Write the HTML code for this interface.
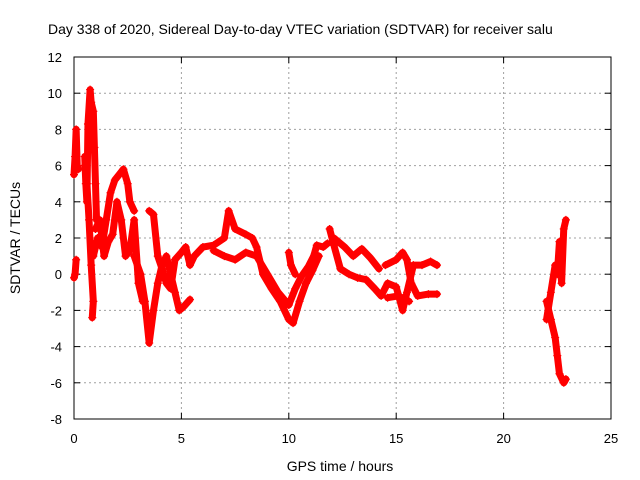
<!DOCTYPE html>
<html><head><meta charset="utf-8"><style>
body{margin:0;background:#fff;}
svg{display:block;font-family:"Liberation Sans",sans-serif;}
</style></head><body>
<svg id="chart" width="640" height="480">
<rect width="640" height="480" fill="#fff"/>
<text x="48" y="34" font-size="14" fill="#000">Day 338 of 2020, Sidereal Day-to-day VTEC variation (SDTVAR) for receiver salu</text>
<g id="grid"></g>
<g id="axes"></g>
<g id="marks"></g>
<text x="340" y="471" font-size="14" text-anchor="middle">GPS time / hours</text>
<text transform="translate(20,238) rotate(-90)" font-size="14" text-anchor="middle">SDTVAR / TECUs</text>
</svg>
<script>
const xTicks=[0,5,10,15,20,25];
const yTicks=[-8,-6,-4,-2,0,2,4,6,8,10,12];
const track1=[[0,5.5],[0.05,6.5],[0.1,8],[0.15,6],[0.2,5.8]];
const track2=[[0,-0.2],[0.05,0],[0.1,0.8]];
const track3=[[0.5,6.5],[0.55,5],[0.6,4],[0.65,8.3],[0.75,10.2],[0.8,9.5],[0.9,9],[0.95,7],[1.0,5],[1.05,3]];
const track4=[[0.5,6],[0.6,5],[0.7,3],[0.8,0.5],[0.9,-1.5],[0.85,-2.4]];
const track5=[[0.9,1],[1.1,2],[1.3,1.5],[1.5,3],[1.7,4.5],[1.9,5.2],[2.1,5.5],[2.3,5.8],[2.5,5],[2.6,4],[2.8,3.5]];
const track6=[[1.0,2.5],[1.2,3],[1.4,1],[1.6,1.8],[1.8,2.2],[2.0,4],[2.2,3],[2.4,1],[2.6,1.3],[2.8,3],[3.0,-0.5],[3.2,-1.5]];
const track7=[[2.8,1],[3.1,0],[3.3,-1.5],[3.5,-3.8],[3.7,-2],[3.9,-0.5],[4.1,0.5],[4.3,1],[4.5,0],[4.7,-1],[4.9,-2],[5.1,-1.8],[5.4,-1.4]];
const track8=[[3.5,3.5],[3.7,3.3],[3.9,1],[4.1,0.3],[4.3,-0.5],[4.5,-0.8],[4.7,0.8],[5.0,1.2],[5.2,1.5],[5.4,0.5],[5.6,1],[6,1.5],[6.5,1.6],[7,2],[7.2,3.5],[7.5,2.5],[8,2.2],[8.3,2.0],[8.5,1.5],[8.8,0],[9.2,-0.8],[9.6,-1.5],[10,-2.5],[10.2,-2.7],[10.5,-1.5],[10.8,-0.5],[11.1,0.2],[11.4,1]];
const track9=[[6.5,1.3],[7,1],[7.5,0.8],[8,1.2],[8.5,1],[9,0],[9.5,-1],[10,-1.7],[10.3,-0.8],[10.6,-0.1],[10.9,0.4],[11.2,1.1]];
const track10=[[10.0,1.2],[10.1,0.5],[10.3,0]];
const track11=[[11.0,0.3],[11.3,1.6],[11.6,1.5],[11.8,1.7]];
const track12=[[11.9,2.5],[12.1,1.6],[12.4,0.3],[12.8,0],[13.2,-0.2],[13.6,-0.3],[14,-0.8],[14.3,-1.2],[14.6,-0.5],[15,-0.7],[15.3,-2],[15.5,-1],[15.8,0.5],[16.2,0.5],[16.6,0.7],[16.9,0.5]];
const track13=[[12.1,2],[12.6,1.5],[13,1],[13.4,1.4],[13.8,0.9],[14.2,0.3]];
const track14=[[14.5,0.5],[15,0.8],[15.3,1.2],[15.5,0.8],[15.7,-0.5],[16,-1.2],[16.5,-1.1],[16.9,-1.1]];
const track15=[[14.6,-1.3],[15.1,-1.2],[15.6,-1.5]];
const track16=[[22.0,-1.5],[22.2,-2.5],[22.4,-3.5],[22.5,-4.5],[22.6,-5.5],[22.8,-6.0],[22.9,-5.8]];
const track17=[[22.0,-2.5],[22.2,-1],[22.4,0.5],[22.5,0],[22.6,1.8],[22.7,-0.5],[22.8,2.5],[22.9,3]];
const tracks=[track1,track2,track3,track4,track5,track6,track7,track8,track9,track10,track11,track12,track13,track14,track15,track16,track17];

const X0=74,X1=611,Y0=419,Y1=57;
const sx=h=>X0+(h-0)/(25-0)*(X1-X0);
const sy=v=>Y0-(v-(-8))/(12-(-8))*(Y0-Y1);
const NS="http://www.w3.org/2000/svg";
const grid=document.getElementById('grid'),axes=document.getElementById('axes'),marks=document.getElementById('marks');
function mk(tag,attrs,parent){const e=document.createElementNS(NS,tag);for(const k in attrs)e.setAttribute(k,attrs[k]);parent.appendChild(e);return e;}
xTicks.forEach(t=>{const x=sx(t);
 if(t>0&&t<25){const g=mk('line',{x1:x,x2:x,y1:Y1,y2:Y0,stroke:'#a0a0a0','stroke-dasharray':'2,3'},grid);
 
 }
 mk('line',{x1:x,x2:x,y1:Y0,y2:Y0-6,stroke:'#000'},axes);
 mk('line',{x1:x,x2:x,y1:Y1,y2:Y1+6,stroke:'#000'},axes);
 const l=mk('text',{x:x,y:443,'font-size':13,'text-anchor':'middle'},axes);l.textContent=t;
 
 
});
yTicks.forEach(t=>{const y=sy(t);
 if(t>-8&&t<12){const g=mk('line',{x1:X0,x2:X1,y1:y,y2:y,stroke:'#a0a0a0','stroke-dasharray':'2,3'},grid);
 
 }
 mk('line',{x1:X0,x2:X0+6,y1:y,y2:y,stroke:'#000'},axes);
 mk('line',{x1:X1,x2:X1-6,y1:y,y2:y,stroke:'#000'},axes);
 const l=mk('text',{x:62,y:y+5,'font-size':13,'text-anchor':'end'},axes);l.textContent=t;
 
 
});
const frame=mk('rect',{x:X0,y:Y1,width:X1-X0,height:Y0-Y1,fill:'none',stroke:'#000'},axes);


tracks.forEach(tr=>{
 const pl=mk('polyline',{points:tr.map(p=>sx(p[0])+','+sy(p[1])).join(' '),fill:'none',stroke:'#ff0000','stroke-width':7,'stroke-linejoin':'round','stroke-linecap':'round'},marks);
 
 
 tr.forEach(p=>{const x=sx(p[0]),y=sy(p[1]);
  const m=mk('path',{d:`M${x-4},${y}H${x+4}M${x},${y-4}V${y+4}`,stroke:'#ff0000','stroke-width':1.2},marks);
  
  
 });
});
</script>
</body></html>
